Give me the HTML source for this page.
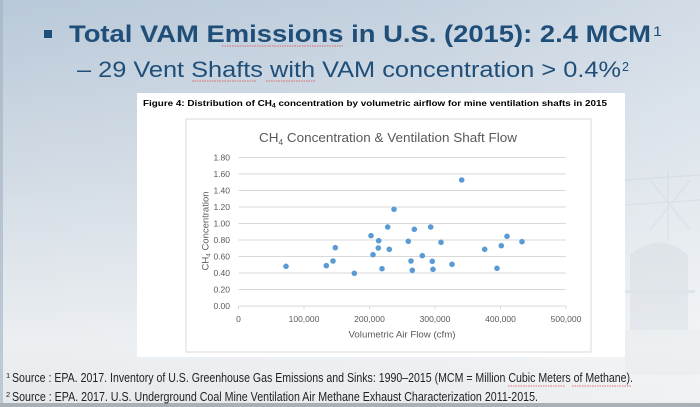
<!DOCTYPE html>
<html><head><meta charset="utf-8"><style>
html,body{margin:0;padding:0;width:700px;height:407px;overflow:hidden;}
svg{display:block;}
</style></head><body>
<svg width="700" height="407" viewBox="0 0 700 407" xmlns="http://www.w3.org/2000/svg">
<defs>
<linearGradient id="bgv" x1="0" y1="0" x2="0" y2="1">
<stop offset="0" stop-color="#b9c9d9"/>
<stop offset="0.45" stop-color="#d3dce5"/>
<stop offset="0.85" stop-color="#eceff2"/>
<stop offset="1" stop-color="#e6e9ec"/>
</linearGradient>
<linearGradient id="bgh" x1="0" y1="0" x2="1" y2="0">
<stop offset="0" stop-color="#ffffff" stop-opacity="0"/>
<stop offset="0.6" stop-color="#ffffff" stop-opacity="0.15"/>
<stop offset="1" stop-color="#ffffff" stop-opacity="0.35"/>
</linearGradient>
</defs>
<rect width="700" height="407" fill="url(#bgv)"/>
<rect width="700" height="407" fill="url(#bgh)"/>
<rect x="0" y="0" width="3" height="407" fill="#9fb0c0" opacity="0.6"/>
<!-- faint industrial background on right -->
<g opacity="0.2" fill="none" stroke="#aeb9c3" stroke-width="1.2">
<line x1="625" y1="180" x2="700" y2="175"/>
<line x1="625" y1="205" x2="700" y2="200"/>
<line x1="650" y1="180" x2="690" y2="230"/>
<line x1="690" y1="180" x2="650" y2="230"/>
<line x1="668" y1="170" x2="668" y2="240"/>
</g>
<g opacity="0.25">
<path d="M630 330 L630 255 Q660 230 688 255 L688 330 Z" fill="#c3ccd5"/>
<rect x="625" y="290" width="70" height="3" fill="#b8c2cb"/>
<rect x="625" y="330" width="75" height="45" fill="#dfe4e8"/>
</g>
<rect x="0" y="403" width="700" height="4" fill="#a9b0b6"/>

<!-- bullet + title -->
<rect x="44" y="30" width="8" height="8" fill="#1f4e79"/>
<text x="69" y="42" font-family="Liberation Sans, sans-serif" font-weight="bold" font-size="24" fill="#1f4e79" textLength="582" lengthAdjust="spacingAndGlyphs">Total VAM Emissions in U.S. (2015): 2.4 MCM</text>
<text x="653" y="36" font-family="Liberation Sans, sans-serif" font-size="14" fill="#1f4e79" textLength="9" lengthAdjust="spacingAndGlyphs">1</text>
<text x="77" y="77" font-family="Liberation Sans, sans-serif" font-size="22.5" fill="#1f4e79" textLength="544" lengthAdjust="spacingAndGlyphs">– 29 Vent Shafts with VAM concentration &gt; 0.4%</text>
<text x="622" y="71" font-family="Liberation Sans, sans-serif" font-size="13" fill="#1f4e79" textLength="7" lengthAdjust="spacingAndGlyphs">2</text>
<g stroke="#e05050" stroke-width="1" stroke-dasharray="1.5,1" opacity="0.8">
<line x1="222" y1="46" x2="343" y2="46"/>
<line x1="192" y1="81" x2="257" y2="81"/>
<line x1="266" y1="81" x2="315" y2="81"/>
<line x1="508" y1="386" x2="565" y2="386"/>
<line x1="572" y1="386" x2="631" y2="386"/>
</g>

<!-- figure box -->
<rect x="137" y="93" width="488" height="264" fill="#ffffff"/>
<text x="143" y="106" font-family="Liberation Sans, sans-serif" font-weight="bold" font-size="8.6" fill="#000" textLength="464" lengthAdjust="spacingAndGlyphs">Figure 4: Distribution of CH<tspan font-size="6" dy="1.5">4</tspan><tspan dy="-1.5"> concentration by volumetric airflow for mine ventilation shafts in 2015</tspan></text>
<rect x="186" y="119" width="405" height="233" fill="#ffffff" stroke="#d9d9d9" stroke-width="1"/>
<text x="259" y="142" font-family="Liberation Sans, sans-serif" font-size="13" fill="#595959" textLength="258" lengthAdjust="spacingAndGlyphs">CH<tspan font-size="8" dy="3">4</tspan><tspan dy="-3"> Concentration &amp; Ventilation Shaft Flow</tspan></text>

<!-- gridlines -->
<g stroke="#d9d9d9" stroke-width="1">
<line x1="238.5" y1="157.5" x2="566" y2="157.5"/>
<line x1="238.5" y1="174" x2="566" y2="174"/>
<line x1="238.5" y1="190.5" x2="566" y2="190.5"/>
<line x1="238.5" y1="207" x2="566" y2="207"/>
<line x1="238.5" y1="223.5" x2="566" y2="223.5"/>
<line x1="238.5" y1="240" x2="566" y2="240"/>
<line x1="238.5" y1="256.5" x2="566" y2="256.5"/>
<line x1="238.5" y1="273" x2="566" y2="273"/>
<line x1="238.5" y1="289.5" x2="566" y2="289.5"/>
<line x1="238.5" y1="306" x2="566" y2="306"/>
<line x1="238.5" y1="306" x2="238.5" y2="309"/>
<line x1="304" y1="306" x2="304" y2="309"/>
<line x1="369.5" y1="306" x2="369.5" y2="309"/>
<line x1="435" y1="306" x2="435" y2="309"/>
<line x1="500.5" y1="306" x2="500.5" y2="309"/>
<line x1="566" y1="306" x2="566" y2="309"/>
</g>
<!-- y labels -->
<g font-family="Liberation Sans, sans-serif" font-size="8.5" fill="#595959" text-anchor="end">
<text x="230" y="160.5">1.80</text>
<text x="230" y="177">1.60</text>
<text x="230" y="193.5">1.40</text>
<text x="230" y="210">1.20</text>
<text x="230" y="226.5">1.00</text>
<text x="230" y="243">0.80</text>
<text x="230" y="259.5">0.60</text>
<text x="230" y="276">0.40</text>
<text x="230" y="292.5">0.20</text>
<text x="230" y="309">0.00</text>
</g>
<!-- x labels -->
<g font-family="Liberation Sans, sans-serif" font-size="8.5" fill="#595959" text-anchor="middle">
<text x="238.5" y="322">0</text>
<text x="304" y="322">100,000</text>
<text x="369.5" y="322">200,000</text>
<text x="435" y="322">300,000</text>
<text x="500.5" y="322">400,000</text>
<text x="566" y="322">500,000</text>
</g>
<text x="402" y="337.5" font-family="Liberation Sans, sans-serif" font-size="9.5" fill="#595959" text-anchor="middle" textLength="107" lengthAdjust="spacingAndGlyphs">Volumetric Air Flow (cfm)</text>
<text transform="translate(208.5,231) rotate(-90)" font-family="Liberation Sans, sans-serif" font-size="9.5" fill="#595959" text-anchor="middle" textLength="79" lengthAdjust="spacingAndGlyphs">CH<tspan font-size="6.5" dy="2">4</tspan><tspan dy="-2"> Concentration</tspan></text>

<!-- data points -->
<g fill="#5b9bd5">
<circle cx="286" cy="266.3" r="2.8"/>
<circle cx="326.3" cy="265.7" r="2.8"/>
<circle cx="333" cy="261" r="2.8"/>
<circle cx="335.3" cy="247.7" r="2.8"/>
<circle cx="354.3" cy="273.3" r="2.8"/>
<circle cx="371" cy="235.7" r="2.8"/>
<circle cx="373" cy="254.7" r="2.8"/>
<circle cx="378.7" cy="240.7" r="2.8"/>
<circle cx="378.3" cy="248" r="2.8"/>
<circle cx="382" cy="268.7" r="2.8"/>
<circle cx="387.7" cy="227" r="2.8"/>
<circle cx="389.3" cy="249.3" r="2.8"/>
<circle cx="394" cy="209.3" r="2.8"/>
<circle cx="408.3" cy="241.3" r="2.8"/>
<circle cx="411" cy="261" r="2.8"/>
<circle cx="412.3" cy="270.3" r="2.8"/>
<circle cx="414.3" cy="229.3" r="2.8"/>
<circle cx="422.3" cy="255.7" r="2.8"/>
<circle cx="430.7" cy="227" r="2.8"/>
<circle cx="432.3" cy="261.3" r="2.8"/>
<circle cx="433" cy="269.3" r="2.8"/>
<circle cx="441" cy="242.3" r="2.8"/>
<circle cx="452" cy="264.3" r="2.8"/>
<circle cx="461.7" cy="180" r="2.8"/>
<circle cx="484.7" cy="249.3" r="2.8"/>
<circle cx="497" cy="268.3" r="2.8"/>
<circle cx="501.3" cy="245.7" r="2.8"/>
<circle cx="507" cy="236.3" r="2.8"/>
<circle cx="522" cy="241.7" r="2.8"/>
</g>

<!-- footnotes -->
<text x="6" y="378" font-family="Liberation Sans, sans-serif" font-size="7.5" fill="#222">1</text>
<text x="12" y="382" font-family="Liberation Sans, sans-serif" font-size="12.5" fill="#222" textLength="621" lengthAdjust="spacingAndGlyphs">Source : EPA. 2017. Inventory of U.S. Greenhouse Gas Emissions and Sinks: 1990–2015 (MCM = Million Cubic Meters of Methane).</text>
<text x="6" y="397" font-family="Liberation Sans, sans-serif" font-size="7.5" fill="#222">2</text>
<text x="12" y="401" font-family="Liberation Sans, sans-serif" font-size="12.5" fill="#222" textLength="526" lengthAdjust="spacingAndGlyphs">Source : EPA. 2017. U.S. Underground Coal Mine Ventilation Air Methane Exhaust Characterization 2011-2015.</text>
</svg>
</body></html>
